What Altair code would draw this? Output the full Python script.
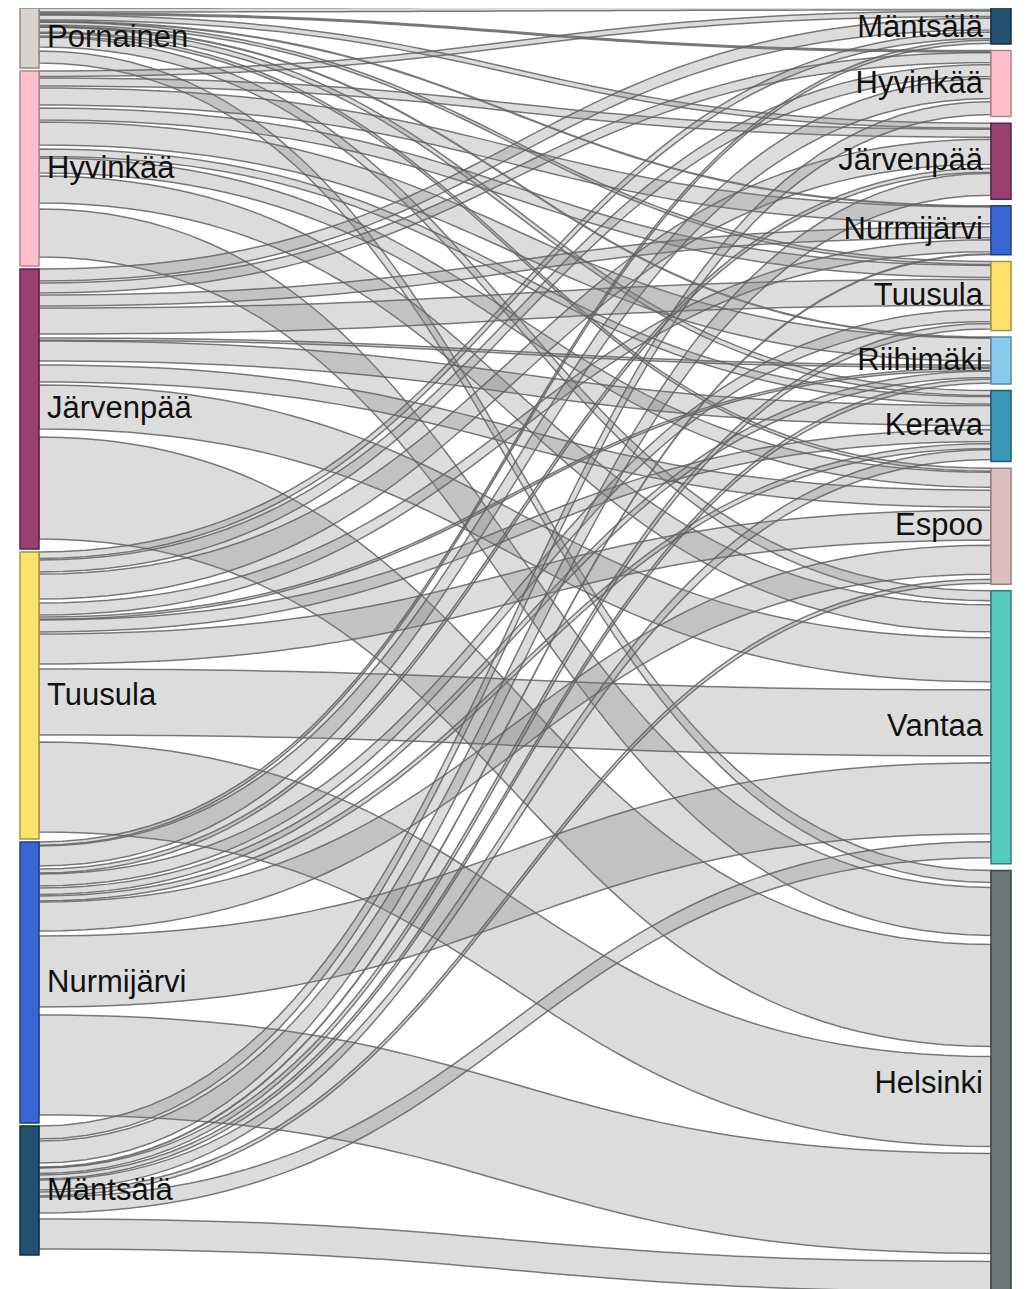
import altair as alt
import pandas as pd
import numpy as np

sources = ["Pornainen", "Hyvinkää", "Järvenpää", "Tuusula", "Nurmijärvi", "Mäntsälä"]
targets = ["Mäntsälä", "Hyvinkää", "Järvenpää", "Nurmijärvi", "Tuusula",
           "Riihimäki", "Kerava", "Espoo", "Vantaa", "Helsinki"]

# visible (grey) flows, per source, in target order
vis_pornainen  = [4, 1.5, 5, 0.7, 3, 0.7, 5, 3, 10, 12]
vis_hyvinkaa   = [5.5, 0, 8, 17, 12, 23, 7.5, 15, 27, 48]
vis_jarvenpaa  = [12, 10, 0, 11, 26, 2.3, 20, 17, 44, 102]
vis_tuusula    = [6.5, 12, 25, 12, 0, 2.3, 12, 30, 66, 90]
vis_nurmijarvi = [3.2, 20, 4, 0, 12, 6.5, 5, 29, 71, 100]
vis_mantsala   = [0, 13, 22, 0.7, 5.5, 4, 10, 4, 16, 30]

# transparent companion flows (white gaps), per source, in target order
hid_pornainen  = [1, 0.5, 1, 0.3, 1, 0.3, 1, 1, 4, 5]
hid_hyvinkaa   = [1.5, 0, 2, 3, 2, 4, 1.5, 3, 6, 9]
hid_jarvenpaa  = [2, 2, 0, 2, 4, 0.7, 4, 3, 8, 10]
hid_tuusula    = [1.5, 2, 4, 2, 0, 0.7, 2, 5, 7, 7]
hid_nurmijarvi = [0.8, 3, 1, 0, 2, 1.5, 1, 5, 8, 8]
hid_mantsala   = [0, 2, 4, 0.3, 1.5, 1, 2, 1, 6, 6]

src_colors = ["#d8d3cf", "#ffc0cb", "#9b3e72", "#fde16c", "#3a66d4", "#22506e"]
src_strokes = ["#8f8a86", "#b3848c", "#5a2343", "#a8943e", "#1f3f8a", "#122f42"]
tgt_colors = ["#22506e", "#ffc0cb", "#9b3e72", "#3a66d4", "#fde16c",
              "#88cbef", "#3d97b6", "#ddbfc0", "#56cabd", "#6b7676"]
tgt_strokes = ["#122f42", "#b3848c", "#5a2343", "#1f3f8a", "#a8943e",
               "#5a8aa5", "#1e5a70", "#9b8080", "#2e7f76", "#3c4545"]

vis = [vis_pornainen, vis_hyvinkaa, vis_jarvenpaa, vis_tuusula, vis_nurmijarvi, vis_mantsala]
hid = [hid_pornainen, hid_hyvinkaa, hid_jarvenpaa, hid_tuusula, hid_nurmijarvi, hid_mantsala]

# ---- layout (pixel units, page coordinates) ----
K = 1.0            # px per unit
LX0, LX1 = 20, 39  # left node column
RX0, RX1 = 991, 1011
LPAD, RPAD = 3.0, 6.6
LTOP, RTOP = 8.0, 6.0

ns, nt = len(sources), len(targets)
src_tot = [sum(vis[i][j] + hid[i][j] for j in range(nt)) for i in range(ns)]
tgt_tot = [sum(vis[i][j] + hid[i][j] for i in range(ns)) for j in range(nt)]

src_y0 = []
y = LTOP
for i in range(ns):
    src_y0.append(y)
    y += src_tot[i] * K + LPAD
tgt_y0 = []
y = RTOP
for j in range(nt):
    tgt_y0.append(y)
    y += tgt_tot[j] * K + RPAD

src_off = {}
for i in range(ns):
    y = src_y0[i]
    for j in range(nt):
        src_off[(i, j)] = y
        y += (vis[i][j] + hid[i][j]) * K
tgt_off = {}
for j in range(nt):
    y = tgt_y0[j]
    for i in range(ns):
        tgt_off[(i, j)] = y
        y += (vis[i][j] + hid[i][j]) * K

t = np.linspace(0, 1, 60)
xm = (LX1 + RX0) / 2
bx = (1 - t) ** 3 * LX1 + 3 * (1 - t) ** 2 * t * xm + 3 * (1 - t) * t ** 2 * xm + t ** 3 * RX0
hy = 3 * (1 - t) * t ** 2 + t ** 3

rows = []
for i in range(ns):
    for j in range(nt):
        w = vis[i][j] * K
        if w <= 0:
            continue
        s0 = src_off[(i, j)]
        t0 = tgt_off[(i, j)]
        ytop = s0 * (1 - hy) + t0 * hy
        ybot = (s0 + w) * (1 - hy) + (t0 + w) * hy
        for k in range(len(t)):
            rows.append({"link": f"{sources[i]}→{targets[j]}", "x": bx[k],
                         "y": ytop[k], "y2": ybot[k]})
links = pd.DataFrame(rows)

node_rows = []
for i in range(ns):
    node_rows.append({"name": sources[i], "x": LX0, "x2": LX1, "y": src_y0[i],
                      "y2": src_y0[i] + src_tot[i] * K, "fill": src_colors[i],
                      "stroke": src_strokes[i], "side": "L"})
for j in range(nt):
    node_rows.append({"name": targets[j], "x": RX0, "x2": RX1, "y": tgt_y0[j],
                      "y2": tgt_y0[j] + tgt_tot[j] * K, "fill": tgt_colors[j],
                      "stroke": tgt_strokes[j], "side": "R"})
nodes = pd.DataFrame(node_rows)
# label at node centre, kept clear of the page's top edge
nodes["cy"] = np.maximum((nodes["y"] + nodes["y2"]) / 2, 28)
nodes["lx"] = np.where(nodes["side"] == "L", nodes["x2"] + 8, nodes["x"] - 8)

TOPPAD = 8
W, H = 1015, 1292
xs = alt.Scale(domain=[8, 8 + W], range=[0, W])
ys = alt.Scale(domain=[8 + TOPPAD, 8 + TOPPAD + H], range=[0, H])

link_layer = alt.Chart(links).mark_area(
    fill="#808080", fillOpacity=0.28, stroke="#5e5e5e", strokeOpacity=0.82,
    strokeWidth=1.5, interpolate="linear"
).encode(
    x=alt.X("x:Q", scale=xs, axis=None),
    y=alt.Y("y:Q", scale=ys, axis=None, stack=False),
    y2="y2:Q",
    detail="link:N",
)

node_layer = alt.Chart(nodes).mark_rect(strokeWidth=1.5).encode(
    x=alt.X("x:Q", scale=xs, axis=None),
    x2="x2:Q",
    y=alt.Y("y:Q", scale=ys, axis=None),
    y2="y2:Q",
    fill=alt.Fill("fill:N", scale=None),
    stroke=alt.Stroke("stroke:N", scale=None),
)

label_font = dict(font="Liberation Sans", fontSize=31, color="#111111", baseline="middle")
left_labels = alt.Chart(nodes[nodes["side"] == "L"]).mark_text(align="left", **label_font).encode(
    x=alt.X("lx:Q", scale=xs, axis=None),
    y=alt.Y("cy:Q", scale=ys, axis=None),
    text="name:N",
)
right_labels = alt.Chart(nodes[nodes["side"] == "R"]).mark_text(align="right", **label_font).encode(
    x=alt.X("lx:Q", scale=xs, axis=None),
    y=alt.Y("cy:Q", scale=ys, axis=None),
    text="name:N",
)

chart = alt.layer(link_layer, node_layer, left_labels, right_labels).properties(
    width=W, height=H,
    padding={"top": TOPPAD, "left": 0, "right": 0, "bottom": 0},
    autosize=alt.AutoSizeParams(type="none")
).configure_view(stroke=None)

chart.save("out.html", embed_options={"renderer": "svg", "actions": False})
